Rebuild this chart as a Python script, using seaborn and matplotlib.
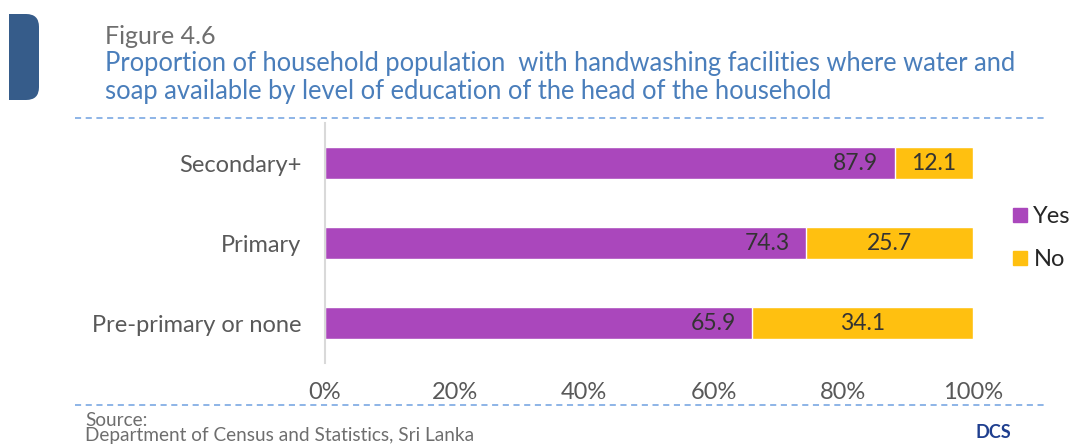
import matplotlib
matplotlib.use("Agg")
import matplotlib.pyplot as plt
from matplotlib.patches import FancyBboxPatch
from matplotlib.lines import Line2D
import seaborn as sns
import pandas as pd

categories = ["Secondary+", "Primary", "Pre-primary or none"]
yes_vals = [87.9, 74.3, 65.9]
no_vals = [12.1, 25.7, 34.1]
tick_vals = [0, 20, 40, 60, 80, 100]
tick_labels = ["0%", "20%", "40%", "60%", "80%", "100%"]

YES_COLOR = "#AA47BC"
NO_COLOR = "#FFC010"
BLUE = "#4A7EBB"
GRAY = "#595959"

sns.set_theme(style="white")
plt.rcParams["font.family"] = ["Lato", "DejaVu Sans"]

df = pd.DataFrame({"category": categories, "yes": yes_vals, "no": no_vals})
df["total"] = df["yes"] + df["no"]

fig = plt.figure(figsize=(10.7, 4.45), dpi=100)
ax = fig.add_axes([325 / 1070, 1 - 363 / 445, 648 / 1070, 240 / 445])

# stacked horizontal bars: full total in yellow, "Yes" share over it in purple
sns.barplot(data=df, y="category", x="total", color=NO_COLOR, saturation=1,
            width=0.4, ax=ax, orient="h")
sns.barplot(data=df, y="category", x="yes", color=YES_COLOR, saturation=1,
            width=0.4, ax=ax, orient="h")

for i, (y, n) in enumerate(zip(yes_vals, no_vals)):
    ax.text(y - 2.5, i, f"{y:.1f}", ha="right", va="center", fontsize=16.5, color="#333333")
    ax.text(y + n / 2, i, f"{n:.1f}", ha="center", va="center", fontsize=16.5, color="#333333")

ax.set_xlim(0, 100)
ax.set_ylim(2.5, -0.5)
ax.set_xticks(tick_vals)
ax.set_xticklabels(tick_labels, fontsize=17, color=GRAY)
ax.tick_params(axis="x", length=0, pad=14)
ax.tick_params(axis="y", length=0, pad=17, labelsize=17, labelcolor=GRAY)
ax.set_xlabel("")
ax.set_ylabel("")
for side in ["top", "right", "bottom"]:
    ax.spines[side].set_visible(False)
ax.spines["left"].set_color("#D9D9D9")
ax.spines["left"].set_linewidth(1.5)

# legend
handles = [Line2D([], [], marker="s", linestyle="none", markersize=10, color=YES_COLOR),
           Line2D([], [], marker="s", linestyle="none", markersize=10, color=NO_COLOR)]
fig.legend(handles, ["Yes", "No"], loc="center left", bbox_to_anchor=(1011 / 1070, 1 - 238 / 445),
           frameon=False, fontsize=17, handletextpad=0.15, handlelength=0.8,
           labelspacing=0.95, borderaxespad=0, borderpad=0, labelcolor="#262626")

# header badge
fig.patches.append(FancyBboxPatch((9 / 1070, 1 - 100 / 445), 30 / 1070, 86 / 445,
                                  boxstyle="round,pad=0,rounding_size=0.012",
                                  transform=fig.transFigure, facecolor="#365C8A",
                                  edgecolor="none", mutation_aspect=2.4))
fig.patches.append(plt.Rectangle((9 / 1070, 1 - 100 / 445), 14 / 1070, 86 / 445,
                                 transform=fig.transFigure, facecolor="#365C8A",
                                 edgecolor="none"))
fig.text(105 / 1070, 1 - 36 / 445, "Figure 4.6", fontsize=18, color="#6E6E6E", va="center")
fig.text(105 / 1070, 1 - 63 / 445,
         "Proportion of household population  with handwashing facilities where water and",
         fontsize=18.4, color=BLUE, va="center")
fig.text(105 / 1070, 1 - 92 / 445,
         "soap available by level of education of the head of the household",
         fontsize=18.4, color=BLUE, va="center")

# dashed separators
for yy in (118, 405):
    fig.add_artist(Line2D([75 / 1070, 1045 / 1070], [1 - yy / 445, 1 - yy / 445],
                          transform=fig.transFigure, color="#6FA0E0", linewidth=1.1,
                          linestyle=(0, (4, 3))))

# footer
fig.text(85 / 1070, 1 - 420 / 445, "Source:", fontsize=13.7, color="#6E6E6E", va="center")
fig.text(85 / 1070, 1 - 436 / 445, "Department of Census and Statistics, Sri Lanka",
         fontsize=13.7, color="#6E6E6E", va="center")
fig.text(993 / 1070, 1 - 433 / 445, "DCS", fontsize=13, color="#1F3F8F",
         fontweight="bold", ha="center", va="center")

fig.savefig("out.png", dpi=100)
